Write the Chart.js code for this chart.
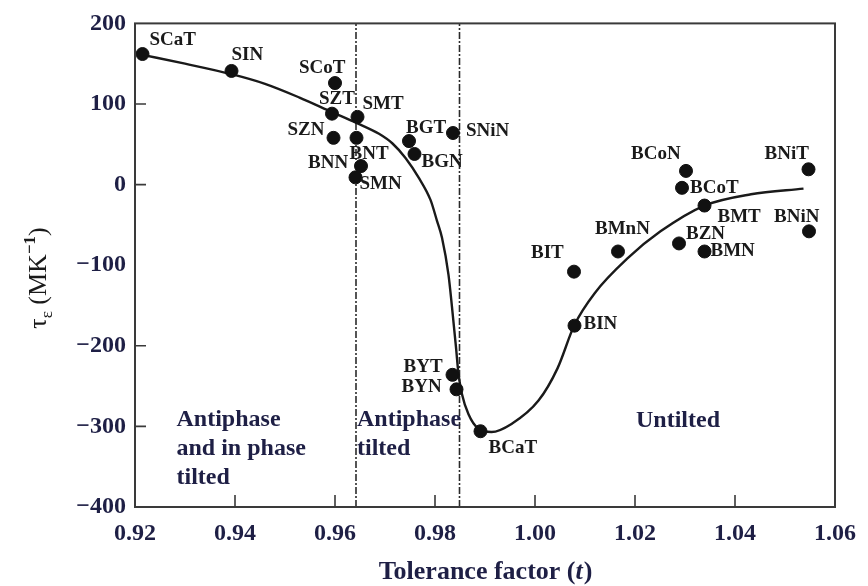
<!DOCTYPE html>
<html>
<head>
<meta charset="utf-8">
<script src="https://cdn.jsdelivr.net/npm/chart.js@4"></script>
<style>
  html, body { margin: 0; padding: 0; background: #fff; }
  canvas { display: block; }
</style>
</head>
<body>
<canvas id="chart" width="868" height="586"></canvas>
<script>
// compounds
const names = ['SCaT', 'SIN', 'SCoT', 'SZT', 'SMT', 'SZN', 'BNT', 'BNN', 'SMN', 'BGT', 'BGN', 'SNiN',
  'BYT', 'BYN', 'BCaT', 'BIT', 'BIN', 'BMnN', 'BZN', 'BMN', 'BCoN', 'BCoT', 'BMT', 'BNiT', 'BNiN'];
const tolerance = [0.9215, 0.9393, 0.9600, 0.9594, 0.9645, 0.9597, 0.9643, 0.9652, 0.9641, 0.9748, 0.9759, 0.9836,
  0.9835, 0.9843, 0.9891, 1.0078, 1.0079, 1.0166, 1.0288, 1.0339, 1.0302, 1.0294, 1.0339, 1.0547, 1.0548];
const tauE = [162, 141, 126, 88, 84, 58, 58, 23, 9, 54, 38, 64,
  -236, -254, -306, -108, -175, -83, -73, -83, 17, -4, -26, 19, -58];

// trend curve
const curveT = [0.9215, 0.9300, 0.9393, 0.9460, 0.9529, 0.9594, 0.9645, 0.9688, 0.9715, 0.9741, 0.9768,
  0.9791, 0.9804, 0.9814, 0.9827, 0.9834, 0.9842, 0.9847, 0.9854, 0.9867, 0.9887, 0.9913, 0.9953,
  1.0007, 1.0045, 1.0079, 1.0119, 1.0186, 1.0251, 1.0339, 1.0432, 1.0537];
const curveTau = [161, 150, 137, 125, 108, 90, 76, 63, 51, 33, 8,
  -19, -45, -66, -112, -152, -202, -235, -260, -285, -303, -307, -297,
  -268, -228, -174, -135, -91, -58, -26, -12, -5];

// phase boundaries
const boundaries = [0.9642, 0.9849];

const regionTexts = [
  ['Antiphase', 'and in phase', 'tilted'],
  ['Antiphase', 'tilted'],
  ['Untilted']
];

const xTicks = [0.92, 0.94, 0.96, 0.98, 1.00, 1.02, 1.04, 1.06];
const xTickMarks = [0.94, 0.96, 0.98, 1.00, 1.02, 1.04];
const yTickMarks = [100, 0, -200, -300];

// label placement, pixels from the dot centre (left edge, middle)
const labelOffsets = {
  SCaT: [7, -14], SIN: [0, -16], SCoT: [-36, -15], SZT: [-13, -15], SMT: [5, -13],
  SZN: [-46, -8], BNT: [-7, 16], BNN: [-53, -3], SMN: [4, 7], BGT: [-3, -13],
  BGN: [7, 8], SNiN: [13, -2], BYT: [-49, -8], BYN: [-55, -2], BCaT: [8, 17],
  BIT: [-43, -19], BIN: [9, -2], BMnN: [-23, -22], BZN: [7, -9], BMN: [6, 0],
  BCoN: [-55, -17], BCoT: [8, 0], BMT: [13, 12], BNiT: [-44, -15], BNiN: [-35, -14]
};
// region text anchors in data units (left edge, first baseline)
const regionAnchors = [[0.9283, -299], [0.9644, -299], [1.0202, -301]];

const SERIF = '"Liberation Serif", "DejaVu Serif", serif';
const INK = '#1a1a1a';
const NAVY = '#1e1f45';

const points = tolerance.map((t, i) => ({ x: t, y: tauE[i] }));
const curve = curveT.map((t, i) => ({ x: t, y: curveTau[i] }));

const overlayPlugin = {
  id: 'overlay',
  afterDraw(chart) {
    const ctx = chart.ctx;
    const area = chart.chartArea;
    const xs = chart.scales.x;
    const ys = chart.scales.y;
    ctx.save();

    // frame
    ctx.strokeStyle = '#3a3a3a';
    ctx.lineWidth = 2;
    ctx.strokeRect(area.left, area.top, area.right - area.left, area.bottom - area.top);

    // inner tick marks
    ctx.lineWidth = 1.6;
    ctx.beginPath();
    xTickMarks.forEach(t => {
      const px = xs.getPixelForValue(t);
      ctx.moveTo(px, area.bottom);
      ctx.lineTo(px, area.bottom - 12);
    });
    yTickMarks.forEach(v => {
      const py = ys.getPixelForValue(v);
      ctx.moveTo(area.left, py);
      ctx.lineTo(area.left + 11, py);
    });
    ctx.stroke();

    // compound labels
    ctx.fillStyle = INK;
    ctx.font = 'bold 19px ' + SERIF;
    ctx.textBaseline = 'middle';
    ctx.textAlign = 'left';
    names.forEach((name, i) => {
      const off = labelOffsets[name] || [8, 0];
      const px = xs.getPixelForValue(tolerance[i]);
      const py = ys.getPixelForValue(tauE[i]);
      ctx.fillText(name, px + off[0], py + off[1]);
    });

    // region texts
    ctx.fillStyle = NAVY;
    ctx.font = 'bold 24px ' + SERIF;
    ctx.textBaseline = 'alphabetic';
    regionTexts.forEach((lines, i) => {
      const px = xs.getPixelForValue(regionAnchors[i][0]);
      const py = ys.getPixelForValue(regionAnchors[i][1]);
      lines.forEach((line, j) => ctx.fillText(line, px, py + j * 29));
    });

    // x axis title with italic t
    ctx.fillStyle = NAVY;
    const part1 = 'Tolerance factor (';
    const part2 = 't';
    const part3 = ')';
    const boldFont = 'bold 26px ' + SERIF;
    const italicFont = 'italic bold 26px ' + SERIF;
    ctx.font = boldFont;
    const w1 = ctx.measureText(part1).width;
    const w3 = ctx.measureText(part3).width;
    ctx.font = italicFont;
    const w2 = ctx.measureText(part2).width;
    const x0 = (area.left + area.right) / 2 - (w1 + w2 + w3) / 2;
    const yTitle = 579;
    ctx.font = boldFont;
    ctx.fillText(part1, x0, yTitle);
    ctx.font = italicFont;
    ctx.fillText(part2, x0 + w1, yTitle);
    ctx.font = boldFont;
    ctx.fillText(part3, x0 + w1 + w2 + 1, yTitle);

    // y axis title: tau_eps (MK^-1), rotated
    ctx.translate(46, 278);
    ctx.rotate(-Math.PI / 2);
    const mainFont = '26px ' + SERIF;
    const smallFont = '17px ' + SERIF;
    const segs = [
      { text: '\u03C4', font: mainFont, dy: 0 },
      { text: '\u03B5', font: smallFont, dy: 6 },
      { text: ' (MK', font: mainFont, dy: 0 },
      { text: '\u22121', font: 'bold 17px ' + SERIF, dy: -11 },
      { text: ')', font: mainFont, dy: 0 }
    ];
    let total = 0;
    segs.forEach(s => { ctx.font = s.font; s.w = ctx.measureText(s.text).width; total += s.w; });
    let cx = -total / 2;
    ctx.fillStyle = INK;
    segs.forEach(s => {
      ctx.font = s.font;
      ctx.fillText(s.text, cx, s.dy);
      cx += s.w;
    });
    ctx.restore();
  }
};

const boundaryDatasets = boundaries.map(t => ({
  data: [{ x: t, y: -400 }, { x: t, y: 200 }],
  showLine: true,
  borderColor: '#2a2a2a',
  borderWidth: 1.6,
  borderDash: [7, 2, 2, 2],
  pointRadius: 0
}));

new Chart(document.getElementById('chart'), {
  type: 'scatter',
  data: {
    datasets: [
      {
        data: points,
        backgroundColor: '#111',
        borderColor: '#111',
        pointRadius: 6.5,
        pointHoverRadius: 6.5
      },
      {
        data: curve,
        showLine: true,
        borderColor: INK,
        borderWidth: 2.4,
        pointRadius: 0,
        cubicInterpolationMode: 'monotone'
      },
      ...boundaryDatasets
    ]
  },
  options: {
    responsive: false,
    animation: false,
    layout: { padding: { top: 22, right: 30, left: 0, bottom: 0 } },
    plugins: {
      legend: { display: false },
      tooltip: { enabled: false }
    },
    scales: {
      x: {
        type: 'linear',
        min: 0.92,
        max: 1.06,
        afterBuildTicks(scale) {
          scale.ticks = xTicks.map(v => ({ value: v }));
        },
        afterFit(scale) { scale.height = 79; },
        grid: { display: false, drawTicks: false },
        border: { display: false },
        ticks: {
          padding: 12,
          color: NAVY,
          font: { family: SERIF, size: 24, weight: 'bold' },
          maxRotation: 0,
          autoSkip: false,
          callback: v => v.toFixed(2)
        }
      },
      y: {
        type: 'linear',
        min: -400,
        max: 200,
        afterFit(scale) { scale.width = 135; },
        grid: { display: false, drawTicks: false },
        border: { display: false },
        ticks: {
          stepSize: 100,
          padding: 9,
          color: NAVY,
          font: { family: SERIF, size: 24, weight: 'bold' },
          callback: v => (v < 0 ? '\u2212' + Math.abs(v) : String(v))
        }
      }
    }
  },
  plugins: [overlayPlugin]
});
</script>
</body>
</html>
